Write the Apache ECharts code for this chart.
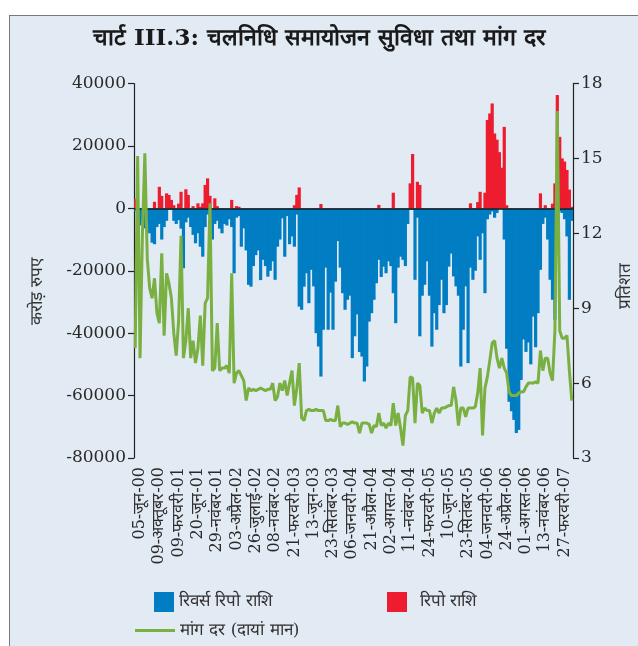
<!DOCTYPE html>
<html>
<head>
<meta charset="utf-8">
<script src="https://cdn.jsdelivr.net/npm/echarts@6/dist/echarts.min.js"></script>
<style>
html,body{margin:0;padding:0;background:#ffffff;}
#frame{position:absolute;left:9px;top:15px;width:700px;height:700px;background:#e2eaf3;border-left:1.5px solid #7a7a7a;border-top:1.5px solid #7a7a7a;}
#chart{position:absolute;left:0;top:0;width:638px;height:646px;}
</style>
</head>
<body>
<div id="frame"></div>
<div id="chart"></div>
<script>
const tickLabels = ['05-जून-00','09-अक्तूबर-00','09-फरवरी-01','20-जून-01','29-नवंबर-01','03-अप्रैल-02','26-जुलाई-02','08-नवंबर-02','21-फरवरी-03','13-जून-03','23-सितंबर-03','06-जनवरी-04','21-अप्रैल-04','02-अगस्त-04','11-नवंबर-04','24-फरवरी-05','10-जून-05','23-सितंबर-05','04-जनवरी-06','24-अप्रैल-06','01-अगस्त-06','13-नवंबर-06','27-फरवरी-07'];

const reverseRepo = [
 -1000,-3500,-5500,-4000,-6400,-4800,-8000,-11000,-11500,-6000,
 -5000,-10000,-6000,-4000,-500,-500,-4000,-5000,-3800,-6500,
 -19200,-4500,-3000,-6000,-8500,-11200,-8000,-12300,-15500,-6000,
 -2000,-2500,-10000,-5000,-4000,-6500,-8000,-5000,-5500,-3500,
 -6000,-20800,-3000,-2500,-12300,-6400,-13500,-24500,-25100,-18500,
 -15000,-13500,-23000,-16500,-18500,-21900,-20000,-17000,-22900,-12300,
 -10000,-3200,-15500,-2500,-11500,-9000,-12300,-2000,-31500,-32500,
 -25100,-20800,-30400,-19700,-25000,-40000,-44300,-53900,-38900,-19000,
 -38900,-27000,-38900,-23500,-10500,-19000,-27200,-32500,-29300,-28000,
 -48000,-41000,-34000,-46000,-47500,-55500,-50700,-36300,-33600,-29300,
 -24000,-16500,-22000,-18700,-20800,-17000,-18500,-27200,-36800,-19000,
 -15500,-16500,-18500,-5000,-500,-500,-22900,-3000,-41000,-28000,
 -24500,-17000,-28000,-44300,-33600,-38900,-31000,-22900,-33600,-31000,
 -18700,-14500,-21800,-25000,-28000,-50700,-38900,-25000,-49600,-19000,
 -22900,-20000,-9000,-16500,-8000,-27200,-3500,-2000,-1000,-3000,
 -1500,-300,-300,-10000,-45000,-62000,-65000,-67800,-72000,-71000,
 -55000,-42000,-46000,-43000,-50000,-34700,-44500,-33600,-19700,-5000,
 -3000,-10000,-22900,-29300,-35700,-5000,-1000,-1500,-3500,-9000,
 -29300,-4000
];

const repo = [
 3000,0,0,0,0,0,0,0,2100,0,
 6900,4000,0,4800,4300,2700,1000,0,1500,5300,
 0,6100,4300,0,700,0,1600,500,1600,7500,
 9600,4000,0,3200,700,0,0,0,0,0,
 2700,0,700,500,0,0,0,0,0,0,
 0,0,0,0,0,0,0,0,0,0,
 0,0,0,0,0,0,1000,4300,6700,0,
 0,0,0,0,0,0,0,1400,0,0,
 0,0,0,0,0,0,0,0,0,0,
 0,0,0,0,0,0,0,0,0,0,
 0,1100,0,0,0,0,0,5000,0,0,
 0,0,0,0,8000,17400,0,8500,7500,0,
 0,0,0,0,0,0,0,0,0,0,
 0,0,0,0,0,0,0,0,0,1600,
 0,0,2000,5300,0,5000,28300,30400,33600,24000,
 22000,18000,13000,26100,1000,0,0,0,0,0,
 0,0,0,0,0,0,0,0,4800,0,
 1000,0,0,1500,8000,36300,22900,16000,15000,12300,
 6000,500
];

const callRate = [
 7.4,15.1,7.0,12.0,15.2,11.0,9.8,9.4,10.2,8.8,
 8.4,11.2,7.9,10.4,10.0,9.4,8.0,7.1,8.5,11.9,
 7.0,7.7,9.0,7.0,7.7,6.8,7.4,8.7,6.7,9.2,
 9.4,13.2,6.5,6.6,8.4,6.5,6.6,6.6,6.7,6.4,
 10.4,6.0,6.4,6.5,6.3,6.1,5.3,5.8,5.7,5.75,
 5.7,5.75,5.8,5.75,5.7,5.75,5.75,6.0,5.3,5.45,
 6.0,5.7,6.1,5.5,6.0,6.5,5.1,5.8,6.8,4.6,
 4.5,4.9,4.95,4.9,4.9,4.95,4.9,4.9,4.9,4.5,
 4.5,4.55,4.5,4.5,5.1,4.25,4.4,4.4,4.35,4.4,
 4.45,4.4,4.4,4.0,4.4,4.4,4.4,4.35,4.0,4.3,
 4.25,4.8,4.3,4.4,4.2,4.4,4.3,5.2,4.3,4.8,
 4.2,3.5,4.7,4.9,6.25,6.2,4.4,6.0,5.9,4.8,
 5.0,4.9,4.9,4.4,4.8,5.0,4.8,5.0,5.0,5.05,
 5.1,5.1,5.85,5.3,4.3,5.0,5.0,4.65,5.0,5.0,
 5.0,5.05,5.6,6.6,3.9,5.8,6.25,6.9,7.6,7.7,
 7.0,6.6,7.0,6.6,6.4,5.65,5.5,5.5,5.5,5.6,
 5.65,5.65,5.85,6.0,6.0,6.0,6.05,6.0,7.3,6.5,
 7.0,7.0,6.4,6.1,8.1,16.9,8.1,7.8,7.8,7.9,
 6.5,5.3
];

const leftTicks = {min: -80000, max: 40000, interval: 20000};
const rightTicks = {min: 3, max: 18, interval: 3};
const FIRST_TICK = 2, TICK_STEP = 8;

const categories = callRate.map((_, i) => 'p' + i);

const SERIF = "'DejaVu Serif', 'Liberation Serif', serif";
const TXT = "#2a2a2a";

const chart = echarts.init(document.getElementById('chart'), null, {renderer: 'canvas'});
chart.setOption({
  animation: false,
  backgroundColor: 'transparent',
  title: {
    text: 'चार्ट III.3: चलनिधि समायोजन सुविधा तथा मांग दर',
    left: 'center', top: 23,
    textStyle: {fontSize: 23, fontWeight: 'bold', color: '#1a1a1a', fontFamily: SERIF}
  },
  grid: {left: 134, right: 65, top: 83.5, bottom: 188, containLabel: false},
  legend: [
    {data: ['रिवर्स रिपो राशि'], left: 149, top: 587, itemWidth: 20, itemHeight: 20, icon: 'rect',
     textStyle: {fontSize: 17, color: '#333', fontFamily: SERIF}},
    {data: ['रिपो राशि'], left: 382, top: 587, itemWidth: 20, itemHeight: 20, icon: 'rect',
     textStyle: {fontSize: 17, color: '#333', fontFamily: SERIF, padding: [0,0,0,8]}},
    {data: ['मांग दर (दायां मान)'], left: 130, top: 617, itemWidth: 40, itemHeight: 3, icon: 'rect',
     textStyle: {fontSize: 17, color: '#333', fontFamily: SERIF}}
  ],
  xAxis: {
    type: 'category', data: categories, boundaryGap: true,
    axisLine: {show: false, onZero: false}, axisTick: {show: false}, splitLine: {show: false},
    axisLabel: {
      rotate: 90, margin: 9, fontSize: 16, color: TXT, fontFamily: SERIF,
      interval: function (index) { return index >= FIRST_TICK && (index - FIRST_TICK) % TICK_STEP === 0; },
      formatter: function (value, index) { return tickLabels[(index - FIRST_TICK) / TICK_STEP] || ''; }
    }
  },
  yAxis: [
    {type: 'value', min: leftTicks.min, max: leftTicks.max, interval: leftTicks.interval,
     axisLine: {show: true, lineStyle: {color: '#222', width: 1.2}},
     axisTick: {show: true, length: 6, lineStyle: {color: '#222', width: 1.2}},
     splitLine: {show: false},
     axisLabel: {margin: 8, fontSize: 17, color: TXT, fontFamily: SERIF,
       formatter: function (v) { return String(v); }}},
    {type: 'value', position: 'right', min: rightTicks.min, max: rightTicks.max, interval: rightTicks.interval,
     axisLine: {show: true, lineStyle: {color: '#222', width: 1.2}},
     axisTick: {show: true, length: 6, lineStyle: {color: '#222', width: 1.2}},
     splitLine: {show: false},
     axisLabel: {margin: 8, fontSize: 17, color: TXT, fontFamily: SERIF}}
  ],
  graphic: [
    {type: 'text', left: 29, top: 258, rotation: Math.PI / 2, silent: true,
     style: {text: 'करोड़ रुपए', fontSize: 17, fill: '#333', fontFamily: SERIF}},
    {type: 'text', left: 617, top: 263, rotation: Math.PI / 2, silent: true,
     style: {text: 'प्रतिशत', fontSize: 17, fill: '#333', fontFamily: SERIF}}
  ],
  series: [
    {name: 'रिवर्स रिपो राशि', type: 'bar', yAxisIndex: 0, data: reverseRepo,
     barWidth: 3.2, barGap: '-100%', itemStyle: {color: '#007dc3'},
     markLine: {silent: true, symbol: 'none', label: {show: false},
       lineStyle: {color: '#1a1a1a', width: 1.6, type: 'solid'}, data: [{yAxis: 0}]}},
    {name: 'रिपो राशि', type: 'bar', yAxisIndex: 0, data: repo,
     barWidth: 3.2, barGap: '-100%', itemStyle: {color: '#ed1c2e'}},
    {name: 'मांग दर (दायां मान)', type: 'line', yAxisIndex: 1, data: callRate,
     symbol: 'none', z: 5, lineStyle: {color: '#7ab042', width: 3}, itemStyle: {color: '#7ab042'}}
  ]
});
</script>
</body>
</html>
